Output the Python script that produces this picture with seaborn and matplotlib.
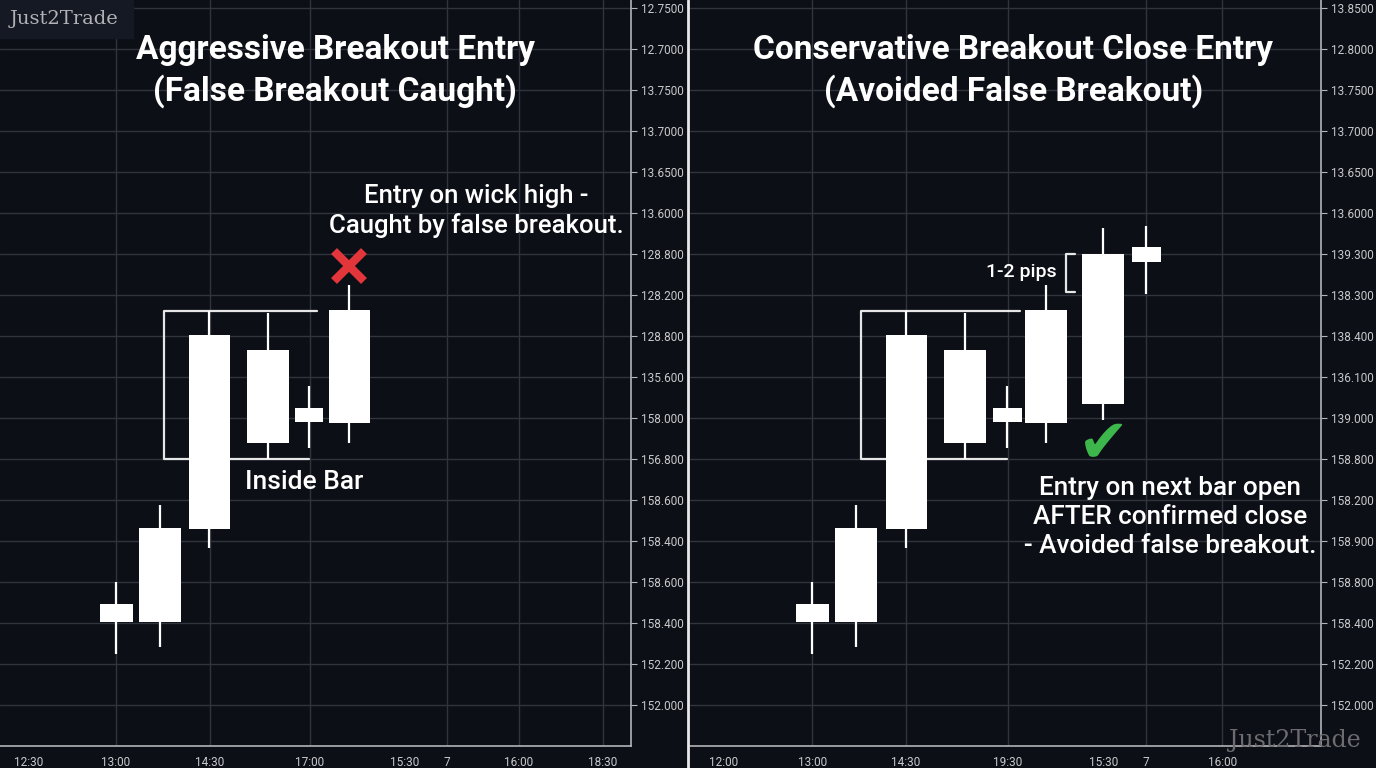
import matplotlib
matplotlib.use("Agg")
import matplotlib.pyplot as plt
import seaborn as sns
import numpy as np

# candle data (x = time slot, y in grid units of 10 per gridline)
left_x = [11.6, 16.0, 20.9, 26.8, 30.9, 34.9]
left_open = [20.2, 20.2, 42.9, 63.9, 69.0, 68.8]
left_high = [30.0, 48.8, 96.1, 95.6, 77.8, 102.4]
left_low = [12.4, 14.1, 38.3, 60.0, 62.7, 63.9]
left_close = [24.6, 43.2, 90.2, 86.6, 72.4, 96.3]
left_width = [3.3, 4.2, 4.1, 4.2, 2.8, 4.1]

right_x = [12.2, 16.6, 21.6, 27.5, 31.7, 35.6, 41.3, 45.6]
right_open = [20.2, 20.2, 42.9, 63.9, 69.0, 68.8, 73.4, 108.0]
right_high = [30.0, 48.8, 96.1, 95.6, 77.8, 102.4, 116.3, 116.8]
right_low = [12.4, 14.1, 38.3, 60.0, 62.7, 63.9, 69.5, 100.2]
right_close = [24.6, 43.2, 90.2, 86.6, 72.4, 96.3, 110.0, 111.7]
right_width = [3.3, 4.2, 4.1, 4.2, 2.9, 4.2, 4.2, 2.9]

y_ticks = [170, 160, 150, 140, 130, 120, 110, 100, 90, 80, 70, 60, 50, 40, 30, 20, 10, 0]
left_ylabels = ["12.7500", "12.7000", "13.7500", "13.7000", "13.6500", "13.6000",
                "128.800", "128.200", "128.800", "135.600", "158.000", "156.800",
                "158.600", "158.400", "158.600", "158.400", "152.200", "152.000"]
right_ylabels = ["13.8500", "12.8000", "13.7500", "13.7000", "13.6500", "13.6000",
                 "139.300", "138.300", "138.400", "136.100", "139.000", "158.800",
                 "158.200", "158.900", "158.800", "158.400", "152.200", "152.000"]

left_xticks = [2.9, 11.6, 21.0, 31.0, 40.5, 44.7, 51.9, 60.3]
left_xlabels = ["12:30", "13:00", "14:30", "17:00", "15:30", "7", "16:00", "18:30"]
left_vgrid = [11.6, 21.0, 31.0, 44.7, 51.9, 60.3]

right_xticks = [3.3, 12.2, 21.6, 31.8, 41.4, 45.6, 53.2]
right_xlabels = ["12:00", "13:00", "14:30", "19:30", "15:30", "7", "16:00"]
right_vgrid = [12.2, 21.6, 31.8, 45.6, 53.2]

bg = "#0c0f16"
grid_c = "#30343d"
spine_c = "#b4b4b8"
txt_c = "#c9c9cc"

sns.set_theme(style="dark")
plt.rcParams["font.family"] = ["Roboto", "DejaVu Sans"]

fig = plt.figure(figsize=(13.76, 7.68), dpi=100, facecolor=bg)
ax_l = fig.add_axes([0.0, 0.0286, 0.4586, 0.9714])
ax_r = fig.add_axes([0.5015, 0.0286, 0.4586, 0.9714])


def draw_candles(ax, xs, o, h, l, c, w):
    lo = np.minimum(o, c)
    hi = np.maximum(o, c)
    ax.vlines(xs, l, h, color="white", lw=1.6, zorder=3)
    ax.bar(xs, hi - lo, bottom=lo, width=w, color="white", edgecolor="none", zorder=4)


def style_axes(ax, xticks, xlabels, vgrid, ylabels):
    ax.set_facecolor(bg)
    ax.set_xlim(0, 63.1)
    ax.set_ylim(-10, 172)
    ax.set_yticks(y_ticks)
    ax.set_yticklabels(ylabels)
    ax.set_xticks(xticks)
    ax.set_xticklabels(xlabels)
    ax.yaxis.tick_right()
    ax.tick_params(axis="both", colors=spine_c, labelcolor=txt_c, labelsize=8.5,
                   length=4, width=0.8, direction="out", pad=3)
    ax.tick_params(axis="y", pad=3)
    for yv in y_ticks:
        ax.axhline(yv, color=grid_c, lw=1, zorder=1)
    for xv in vgrid:
        ax.axvline(xv, color=grid_c, lw=1, zorder=1)
    ax.grid(False)
    for s in ["left", "top"]:
        ax.spines[s].set_visible(False)
    for s in ["right", "bottom"]:
        ax.spines[s].set_color(spine_c)
        ax.spines[s].set_linewidth(1.2)


style_axes(ax_l, left_xticks, left_xlabels, left_vgrid, left_ylabels)
style_axes(ax_r, right_xticks, right_xlabels, right_vgrid, right_ylabels)

draw_candles(ax_l, left_x, left_open, left_high, left_low, left_close, left_width)
draw_candles(ax_r, right_x, right_open, right_high, right_low, right_close, right_width)

br = dict(color="#e6e6e6", lw=1.6, zorder=2)
# inside bar brackets
ax_l.plot([31.7, 16.4, 16.4, 30.9], [96.1, 96.1, 60.0, 60.0], **br)
ax_r.plot([33.0, 17.1, 17.1, 31.7], [96.1, 96.1, 60.0, 60.0], **br)
# 1-2 pips bracket
ax_r.plot([38.5, 37.6, 37.6, 38.5], [110.0, 110.0, 100.7, 100.7], **br)

tkw = dict(color="white", ha="center", va="center", zorder=6)
ax_l.text(0.531, 0.905, "Aggressive Breakout Entry\n(False Breakout Caught)",
          transform=ax_l.transAxes, fontsize=24, fontweight="bold", linespacing=1.3, **tkw)
ax_r.text(0.512, 0.905, "Conservative Breakout Close Entry\n(Avoided False Breakout)",
          transform=ax_r.transAxes, fontsize=24, fontweight="bold", linespacing=1.3, **tkw)

ax_l.text(47.6, 120.5, "Entry on wick high -\nCaught by false breakout.",
          fontsize=18.5, fontweight="medium", linespacing=1.25, **tkw)
ax_l.text(30.4, 54.4, "Inside Bar", fontsize=19, fontweight="medium", **tkw)
ax_l.plot([34.9], [107.1], marker="x", markersize=22, markeredgewidth=6,
          color="#e2363a", zorder=6)

ax_r.text(48.0, 45.9, "Entry on next bar open\nAFTER confirmed close\n- Avoided false breakout.",
          fontsize=18.8, fontweight="medium", linespacing=1.27, **tkw)
ax_r.text(36.7, 105.6, "1-2 pips", fontsize=14, fontweight="medium", color="white",
          ha="right", va="center", zorder=6)
ax_r.text(41.3, 63.4, "\u2714", fontsize=44, color="#3db64b", ha="center", va="center",
          family="DejaVu Sans", zorder=6)

# separator between panels
fig.add_artist(plt.Line2D([0.5, 0.5], [0, 1], transform=fig.transFigure,
                          color="#e8e8e8", lw=2))

# watermarks
fig.patches.append(plt.Rectangle((0, 1 - 38 / 768), 133 / 1376, 38 / 768,
                                 transform=fig.transFigure, color="#151924", zorder=0))
fig.text(10 / 1376, 1 - 19 / 768, "Just2Trade", fontsize=14, color="#b2b2b6",
         family="DejaVu Serif", va="center", ha="left")
fig.text(1295 / 1376, 1 - 740 / 768, "Just2Trade", fontsize=17, color="#6c6c70",
         family="DejaVu Serif", va="center", ha="center")

fig.savefig("out.png", dpi=100, facecolor=bg)
